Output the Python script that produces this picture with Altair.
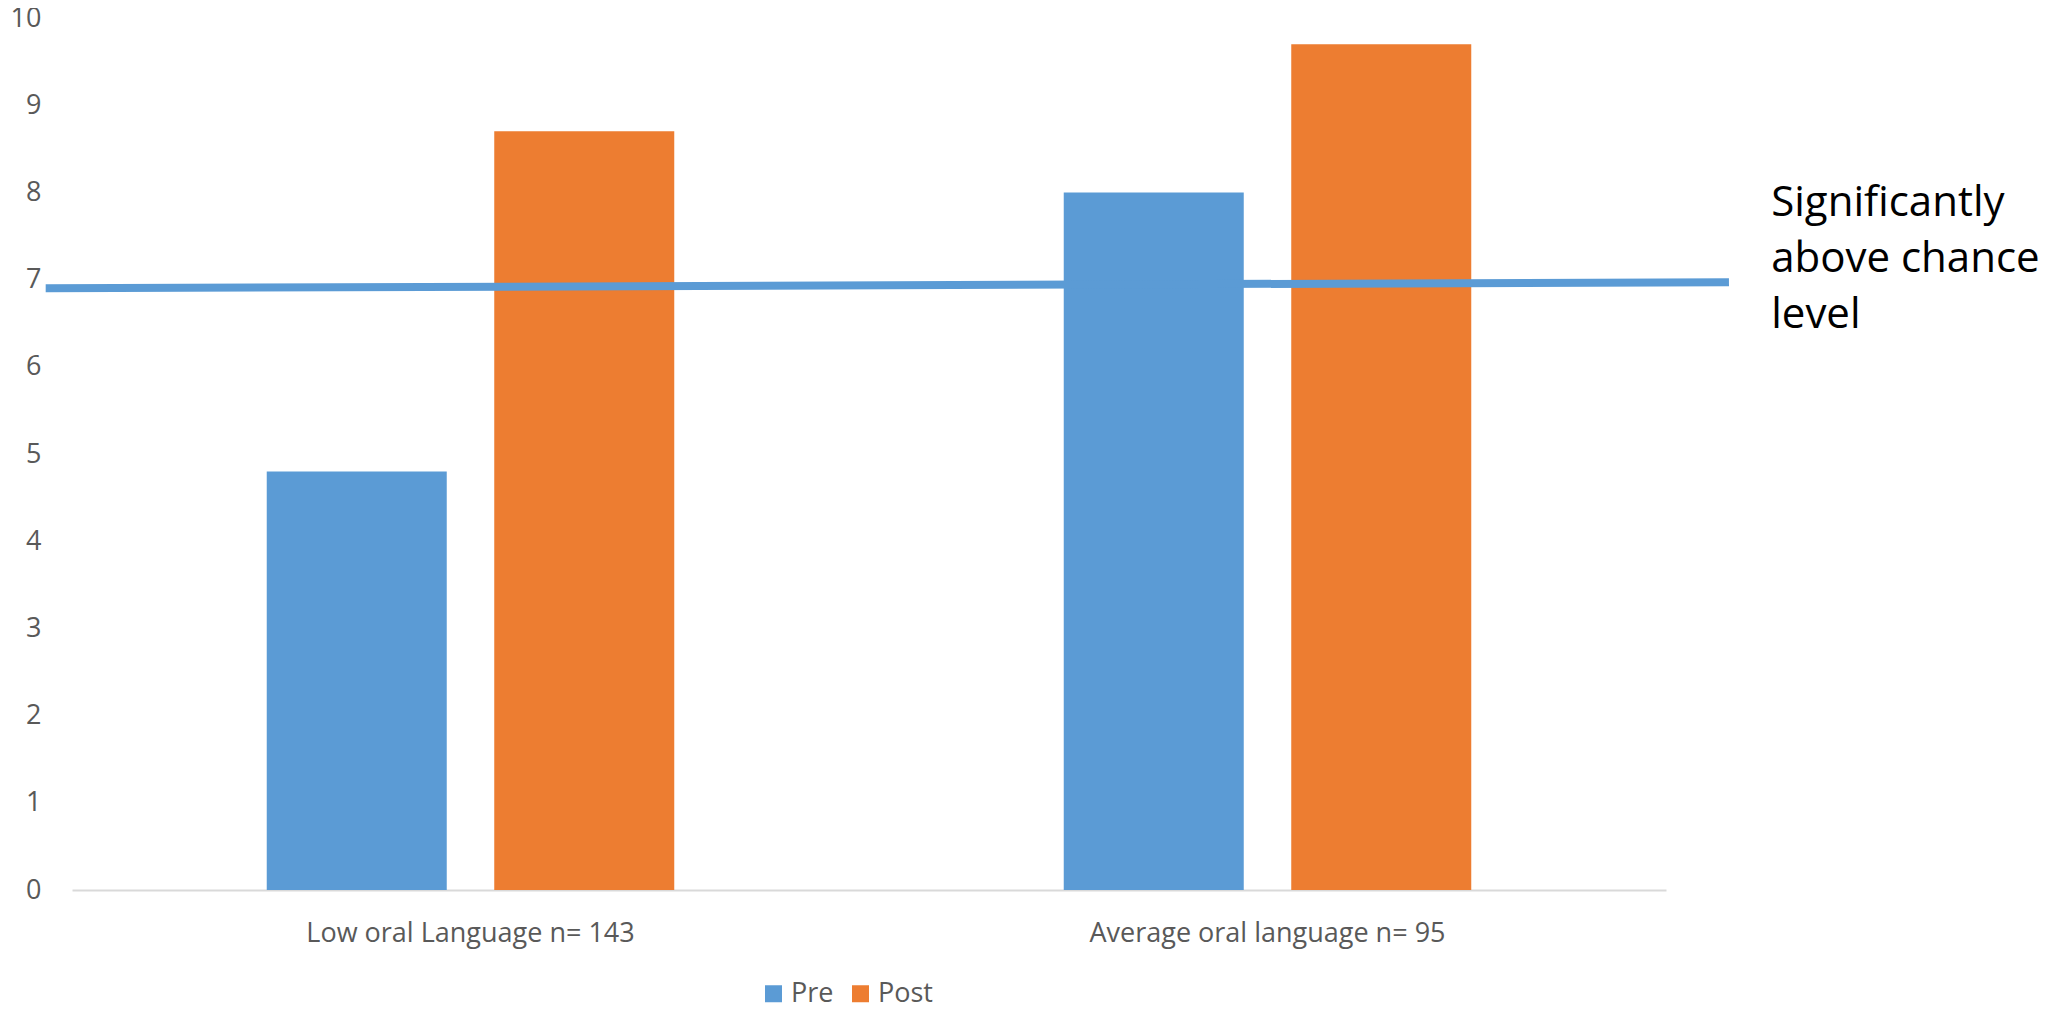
import altair as alt
import pandas as pd

# ---- data ----
categories = ["Low oral Language n= 143", "Average oral language n= 95"]
series = ["Pre", "Post"]
pre_values = [4.8, 8.0]
post_values = [8.7, 9.7]
colors = ["#5B9BD5", "#ED7D31"]

# reference line ("significantly above chance level"), in category units (0..2)
chance_pos = [-0.033, 2.079]
chance_val = [6.90, 6.97]
note_pos = [2.132]
note_val = [7.73]
note_text = ["Significantly\nabove chance\nlevel"]

rows = []
for c, p, q in zip(categories, pre_values, post_values):
    rows.append({"category": c, "series": "Pre", "value": p})
    rows.append({"category": c, "series": "Post", "value": q})
bars_df = pd.DataFrame(rows)
line_df = pd.DataFrame({"pos": chance_pos, "value": chance_val})
note_df = pd.DataFrame({"pos": note_pos, "value": note_val, "label": note_text})

FONT = "Open Sans"
GREY = "#595959"

yscale = alt.Scale(domain=[0, 10], nice=False)

bars = alt.Chart(bars_df).mark_bar().encode(
    x=alt.X("category:N", sort=categories, title=None,
            scale=alt.Scale(paddingInner=0, paddingOuter=0),
            axis=alt.Axis(labelAngle=0, labelFontSize=27, labelColor=GREY, labelFont=FONT,
                          labelLimit=0, ticks=False, tickSize=0, labelPadding=30, grid=False,
                          domainColor="#D9D9D9", domainWidth=2)),
    xOffset=alt.XOffset("series:N", sort=series,
                        scale=alt.Scale(paddingInner=0.2088, paddingOuter=0.856)),
    y=alt.Y("value:Q", scale=yscale, title=None,
            axis=alt.Axis(values=list(range(0, 11)), format="d", grid=False, domain=False,
                          ticks=False, tickSize=0, labelPadding=31, labelFontSize=27,
                          labelColor=GREY, labelFont=FONT)),
    color=alt.Color("series:N", sort=series,
                    scale=alt.Scale(domain=series, range=colors),
                    legend=alt.Legend(title=None, orient="none", direction="horizontal",
                                      legendX=688, legendY=962, symbolType="square",
                                      symbolSize=289, symbolStrokeWidth=0,
                                      labelFontSize=27, labelColor=GREY, labelFont=FONT,
                                      labelOffset=4, columnPadding=13)),
)

xq = alt.Scale(domain=[0, 2], nice=False, zero=False)

line = alt.Chart(line_df).mark_line(color="#5B9BD5", strokeWidth=8, clip=False).encode(
    x=alt.X("pos:Q", scale=xq, axis=None),
    y=alt.Y("value:Q", scale=yscale),
)

note = alt.Chart(note_df).mark_text(align="left", baseline="alphabetic", fontSize=42,
                                    font=FONT, color="#000000", lineBreak="\n",
                                    lineHeight=56, clip=False).encode(
    x=alt.X("pos:Q", scale=xq, axis=None),
    y=alt.Y("value:Q", scale=yscale),
    text="label:N",
)

chart = alt.layer(bars, line, note).resolve_scale(x="independent").properties(
    width=1594, height=872,
    background="white",
    autosize=alt.AutoSizeParams(type="none"),
    padding={"left": 64, "top": 10, "right": 380, "bottom": 124},
).configure_view(strokeWidth=0, stroke="transparent")

chart.save("out.html", embed_options={"renderer": "svg", "actions": False})
